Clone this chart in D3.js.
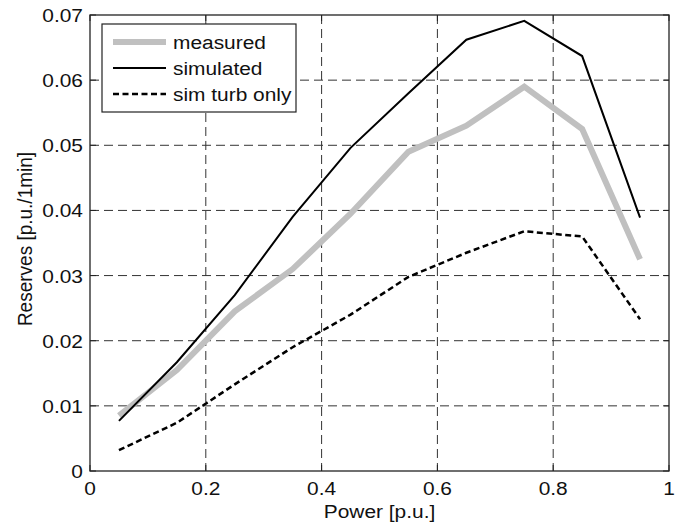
<!DOCTYPE html>
<html>
<head>
<meta charset="utf-8">
<script src="https://cdn.jsdelivr.net/npm/d3@7"></script>
<style>
  body { margin: 0; background: #fff; }
  text { font-family: "Liberation Sans", Arial, sans-serif; fill: #111; font-size: 19px; }
</style>
</head>
<body>
<svg id="chart" width="684" height="527"></svg>
<script>
// Reserves vs power
const power = [0.05, 0.15, 0.25, 0.35, 0.45, 0.55, 0.65, 0.75, 0.85, 0.95];
const measured = [0.0085, 0.0155, 0.0245, 0.031, 0.0395, 0.049, 0.053, 0.059, 0.0525, 0.0325];
const simulated = [0.0077, 0.0167, 0.027, 0.039, 0.0496, 0.058, 0.0662, 0.0691, 0.0637, 0.0389];
const simTurb = [0.0032, 0.0074, 0.0133, 0.019, 0.024, 0.0298, 0.0335, 0.0368, 0.036, 0.0233];
const xTicks = [0, 0.2, 0.4, 0.6, 0.8, 1];
const yTicks = [0, 0.01, 0.02, 0.03, 0.04, 0.05, 0.06, 0.07];

const svg = d3.select("#chart");
const m = {left: 90, right: 15, top: 15, bottom: 56};
const W = 684, H = 527;
const w = W - m.left - m.right, h = H - m.top - m.bottom;
const SX = 1.1; // text is a bit wide in the original

const x = d3.scaleLinear().domain([0, 1]).range([0, w]);
const y = d3.scaleLinear().domain([0, 0.07]).range([h, 0]);

const g = svg.append("g").attr("transform", `translate(${m.left},${m.top})`);

function label(parent, px, py, txt, anchor, rot) {
    return parent.append("text")
        .attr("transform", `translate(${px},${py})${rot ? " rotate(" + rot + ")" : ""} scale(${rot ? "1," + SX : SX + ",1"})`)
        .attr("text-anchor", anchor).text(txt);
}

// grid
g.append("g").selectAll("line").data(xTicks.slice(1, -1)).join("line")
    .attr("x1", d => x(d)).attr("x2", d => x(d)).attr("y1", 0).attr("y2", h)
    .attr("stroke", "#333").attr("stroke-width", 1).attr("stroke-dasharray", "9,5");
g.append("g").selectAll("line").data(yTicks.slice(1, -1)).join("line")
    .attr("y1", d => y(d)).attr("y2", d => y(d)).attr("x1", 0).attr("x2", w)
    .attr("stroke", "#333").attr("stroke-width", 1).attr("stroke-dasharray", "9,5");

// ticks on all four sides, pointing in
const tk = g.append("g").attr("stroke", "#222");
xTicks.forEach(d => {
    tk.append("line").attr("x1", x(d)).attr("x2", x(d)).attr("y1", h).attr("y2", h - 6);
    tk.append("line").attr("x1", x(d)).attr("x2", x(d)).attr("y1", 0).attr("y2", 6);
});
yTicks.forEach(d => {
    tk.append("line").attr("y1", y(d)).attr("y2", y(d)).attr("x1", 0).attr("x2", 6);
    tk.append("line").attr("y1", y(d)).attr("y2", y(d)).attr("x1", w).attr("x2", w - 6);
});

// tick labels
xTicks.forEach(d => label(g, x(d), h + 24, d3.format("")(d), "middle"));
yTicks.forEach(d => label(g, -7, y(d) + 7, d === 0 ? "0" : d3.format(".2f")(d), "end"));

g.append("rect").attr("width", w).attr("height", h)
    .attr("fill", "none").attr("stroke", "#222").attr("stroke-width", 1.3);

// lines
const line = d3.line().x((d, i) => x(power[i])).y(d => y(d));
g.append("path").datum(measured).attr("d", line)
    .attr("fill", "none").attr("stroke", "#c0c0c0").attr("stroke-width", 6);
g.append("path").datum(simulated).attr("d", line)
    .attr("fill", "none").attr("stroke", "#000").attr("stroke-width", 2);
g.append("path").datum(simTurb).attr("d", line)
    .attr("fill", "none").attr("stroke", "#000").attr("stroke-width", 2.5).attr("stroke-dasharray", "6,3.5");

// legend
const leg = svg.append("g").attr("transform", "translate(102,24)");
leg.append("rect").attr("width", 194).attr("height", 88)
    .attr("fill", "#fff").attr("stroke", "#222").attr("stroke-width", 1.2);
const items = [
    {label: "measured", color: "#c0c0c0", width: 6, dash: null},
    {label: "simulated", color: "#000", width: 2, dash: null},
    {label: "sim turb only", color: "#000", width: 2.5, dash: "6,3.5"}
];
items.forEach((it, i) => {
    const yy = 18 + i * 26;
    leg.append("line").attr("x1", 11).attr("x2", 64).attr("y1", yy).attr("y2", yy)
        .attr("stroke", it.color).attr("stroke-width", it.width).attr("stroke-dasharray", it.dash);
    label(leg, 71, yy + 7, it.label, "start");
});

// axis labels
label(svg, m.left + w / 2, 518, "Power [p.u.]", "middle");
label(svg, 32, 239, "Reserves [p.u./1min]", "middle", -90);
</script>
</body>
</html>
